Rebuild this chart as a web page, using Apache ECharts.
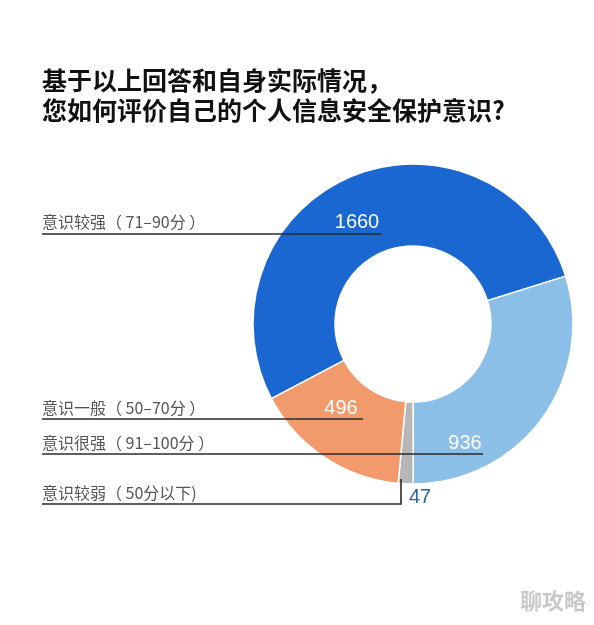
<!DOCTYPE html>
<html>
<head>
<meta charset="utf-8">
<script src="https://cdn.jsdelivr.net/npm/echarts@6/dist/echarts.min.js"></script>
<style>
html,body{margin:0;padding:0;background:#fff;}
#chart{width:594px;height:625px;}
</style>
</head>
<body>
<div id="chart"></div>
<script>
// ---- data ----
const titleLines = ['基于以上回答和自身实际情况，', '您如何评价自己的个人信息安全保护意识?'];
const categories = ['意识较强（ 71–90分 ）', '意识很强（ 91–100分 ）', '意识较弱（ 50分以下)', '意识一般（ 50–70分 ）'];
const values = [1660, 936, 47, 496];
const watermark = '聊攻略';

// ---- styles / layout ----
const colors = ['#1b67d2', '#8cbfe8', '#b7b7b7', '#f39a6c'];
const valueLabelColors = ['#ffffff', '#ffffff', '#2e5f9f', '#ffffff'];
const CX = 413, CY = 324;
// value label centres
const valuePos = [[357, 222], [465, 443], [420, 497], [341, 408]];
// category label (left) centre y and underline geometry
const catY = [222, 443, 493, 408];
const lineY = [234, 454, 504, 419];
const lineEndX = [382, 483, 401, 363];
const lineEndY = [234, 454, 479, 419];

const chart = echarts.init(document.getElementById('chart'));

const sliceData = categories.map((n, i) => ({
  name: n, value: values[i],
  itemStyle: { color: colors[i] },
  label: { color: valueLabelColors[i] }
}));
const catData = categories.map((n, i) => ({ name: n, value: values[i] }));

chart.setOption({
  animation: false,
  backgroundColor: '#ffffff',
  title: {
    text: titleLines.join('\n'),
    left: 37, top: 60,
    textStyle: {
      fontFamily: '"Noto Sans CJK SC", sans-serif',
      fontSize: 25, fontWeight: 'bold', color: '#111', lineHeight: 30
    }
  },
  graphic: [{
    type: 'text', right: 8, top: 590,
    style: {
      text: watermark, fill: '#c9c9c9',
      font: 'bold 22px "Noto Sans CJK SC", sans-serif'
    }
  }],
  series: [
    {
      type: 'pie',
      z: 2,
      center: [CX, CY],
      radius: [78, 160],
      startAngle: 207.8,
      clockwise: true,
      avoidLabelOverlap: false,
      itemStyle: { borderColor: '#ffffff', borderWidth: 1.5 },
      label: {
        show: true, position: 'inside', formatter: '{c}',
        fontFamily: '"Liberation Sans", Arial, sans-serif',
        fontSize: 20
      },
      labelLine: { show: false },
      labelLayout: function (p) {
        const pos = valuePos[p.dataIndex];
        return { x: pos[0], y: pos[1], align: 'center', verticalAlign: 'middle' };
      },
      emphasis: { disabled: true },
      data: sliceData
    },
    {
      type: 'pie',
      z: 5,
      silent: true,
      center: [CX, CY],
      radius: [78, 160],
      startAngle: 207.8,
      clockwise: true,
      avoidLabelOverlap: false,
      itemStyle: { color: 'rgba(0,0,0,0)', borderWidth: 0 },
      label: {
        show: true, position: 'outside', formatter: '{b}',
        fontFamily: '"Noto Sans CJK SC", sans-serif',
        fontSize: 16, color: '#555555'
      },
      labelLine: { show: true, lineStyle: { color: '#2a2a2a', width: 1.6 } },
      labelLayout: function (p) {
        const i = p.dataIndex;
        return {
          x: 42, y: catY[i], align: 'left', verticalAlign: 'middle',
          labelLinePoints: [[42, lineY[i]], [lineEndX[i], lineY[i]], [lineEndX[i], lineEndY[i]]]
        };
      },
      emphasis: { disabled: true },
      data: catData
    }
  ]
});
</script>
</body>
</html>
